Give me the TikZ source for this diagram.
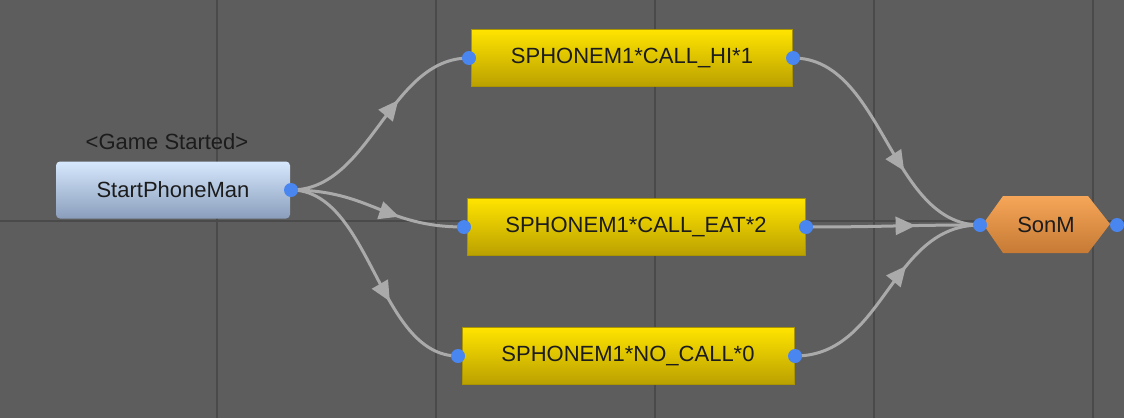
\documentclass[tikz,border=0pt]{standalone}
\usepackage{fontspec}
\setmainfont{Liberation Sans}
\usetikzlibrary{arrows.meta,decorations.markings}
\definecolor{canvas}{RGB}{93,93,93}
\definecolor{gridline}{RGB}{74,74,74}
\definecolor{linkgray}{RGB}{170,170,170}
\definecolor{portblue}{RGB}{74,134,240}
\definecolor{blutop}{RGB}{214,232,253}
\definecolor{blubot}{RGB}{138,158,188}
\definecolor{yeltop}{RGB}{255,228,0}
\definecolor{yelbot}{RGB}{186,160,0}
\definecolor{yeledge}{RGB}{170,148,0}
\definecolor{orgtop}{RGB}{246,166,88}
\definecolor{orgbot}{RGB}{198,122,52}
\definecolor{inkdark}{RGB}{28,28,28}
\begin{document}
\begin{tikzpicture}[x=1pt,y=-1pt,
    txt/.style={font=\fontsize{22}{26}\selectfont, text=inkdark},
    startbox/.style={txt, rounded corners=4, top color=blutop, bottom color=blubot,
      minimum width=234, minimum height=57, inner sep=0},
    keybox/.style={txt, draw=yeledge, line width=1, top color=yeltop, bottom color=yelbot,
      inner sep=0, minimum height=57},
    port/.style={fill=portblue},
    link/.style={draw=linkgray, line width=3, postaction={decorate},
      decoration={markings, mark=at position 0.63 with {\arrow{Triangle[length=20,width=18]}}}}]
  \useasboundingbox (0,0) rectangle (1124,418);
  \fill[canvas] (0,0) rectangle (1124,418);
  \foreach \gx in {217,436,655,874,1093}
    \draw[gridline, line width=2] (\gx,0) -- (\gx,418);
  \draw[gridline, line width=2] (0,221) -- (1124,221);

  % ports
  \coordinate (startout) at (291,190);
  \coordinate (hiin) at (469,58);
  \coordinate (hiout) at (793,58);
  \coordinate (eatin) at (464,227);
  \coordinate (eatout) at (806,227);
  \coordinate (noin) at (458,356);
  \coordinate (noout) at (795,356);
  \coordinate (sonin) at (980,225);
  \coordinate (sonout) at (1117,225);

  \begin{scope}
    \draw[link] (startout) .. controls +(80,0) and +(-80,0) .. (hiin);
    \draw[link] (startout) .. controls +(80,0) and +(-80,0) .. (eatin);
    \draw[link] (startout) .. controls +(80,0) and +(-80,0) .. (noin);
    \draw[link] (hiout) .. controls +(90,0) and +(-90,0) .. (sonin);
    \draw[link] (eatout) .. controls +(80,0) and +(-80,0) .. (sonin);
    \draw[link] (noout) .. controls +(90,0) and +(-90,0) .. (sonin);
  \end{scope}

  \node[txt] (started) at (167,142) {<Game Started>};
  \node[startbox] (start) at (173,190) {StartPhoneMan};
  \node[keybox, minimum width=321] (hi) at (632,58) {SPHONEM1*CALL\_HI*1};
  \node[keybox, minimum width=338] (eat) at (636,227) {SPHONEM1*CALL\_EAT*2};
  \node[keybox, minimum width=332] (no) at (628,356) {SPHONEM1*NO\_CALL*0};
  \shade[top color=orgtop, bottom color=orgbot]
    (983,224) -- (1003,196) -- (1088,196) -- (1110,224) -- (1088,253) -- (1003,253) -- cycle;
  \node[txt] (son) at (1046,225) {SonM};

  \foreach \p in {startout,hiin,hiout,eatin,eatout,noin,noout,sonin,sonout}
    \fill[port] (\p) circle (7);
\end{tikzpicture}
\end{document}
